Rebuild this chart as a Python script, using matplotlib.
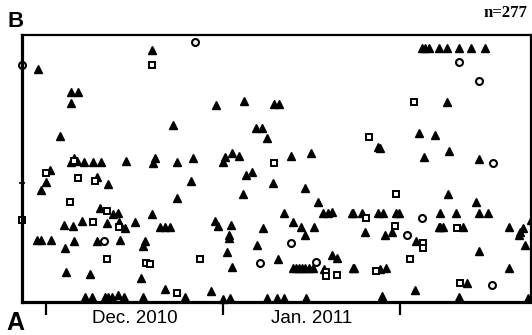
import matplotlib
matplotlib.use("Agg")
import matplotlib.pyplot as plt

# x: days since 1 Dec 2010, y: measured level (arbitrary units)
tri_day = [-1.4, 18.6, 4.4, 5.6, 4.4, 29.8, 34.7, 39.9, 40.8,
           65.8, 66.4, 67.1, 68.8, 70.1, 72.2, 74.3, 76.9, 70.1,
           2.5, 22.2, 4.4, 4.9, 5.4, 6.7, 8.2, 9.6, 14.0, 19.1, 18.7, 22.9,
           0.7, 0.0, -0.9, 8.9, 10.9, 22.9, 9.5, 11.7, 12.6, 18.6,
           3.2, 4.7, 6.3, 10.7, 12.8, 13.8, 15.6, 20.0, 20.8, 21.7,
           -1.6, -0.9, 0.9, 3.3, 4.9, 8.9, 13.0, 17.3, 17.0,
           3.5, 7.7, 16.6, 20.8,
           6.8, 8.1, 10.3, 10.9, 11.6, 12.6, 13.7, 17.0,
           36.8, 37.8, 38.7, 25.7, 31.3, 32.6, 33.8, 31.0, 42.9, 46.4,
           36.1, 35.0, 25.4, 39.8, 45.4, 34.5, 47.6,
           41.7, 48.5, 49.4, 50.1, 53.8,
           29.6, 30.1, 32.4, 38.0, 43.3, 44.7, 46.9,
           45.4, 32.0, 32.0, 37.0, 31.7, 32.6, 40.6,
           43.3, 43.8, 44.3, 44.8, 45.4, 46.1, 46.8,
           48.7, 50.1, 51.0, 53.8,
           24.3, 28.9, 31.0, 32.2, 38.7, 40.5, 41.7, 45.5,
           65.3, 68.1, 58.1, 58.5, 66.2, 70.6, 75.8, 70.4, 75.3,
           53.6, 55.3, 58.1, 59.0, 61.3, 61.8, 69.0, 71.8, 75.7, 77.4,
           68.8, 69.0, 69.4, 72.9, 81.1, 83.4, 84.8,
           55.9, 60.6, 59.4, 64.8, 75.7, 83.0, 82.8, 83.9,
           53.9, 58.5, 59.5, 81.1, 73.6, 64.6, 58.8, 72.3, 84.4]
tri_val = [233, 252, 210, 210, 199, 197, 201, 198, 198,
           254, 254, 254, 254, 254, 254, 254, 254, 200,
           166, 177, 140, 144, 141, 140, 140, 140, 141, 144, 139, 140,
           132, 120, 112, 125, 118, 104, 94, 88, 89, 88,
           77, 76, 81, 79, 80, 74, 80, 75, 75, 75,
           62, 62, 62, 54, 61, 61, 62, 61, 56,
           30, 28, 24, 13,
           5, 5, 5, 5, 5, 7, 5, 5,
           174, 174, 164, 144, 145, 149, 146, 140, 146, 149,
           130, 127, 121, 119, 114, 108, 100,
           89, 89, 89, 90, 89,
           81, 76, 77, 74, 80, 75, 75,
           67, 67, 64, 57, 50, 35, 43,
           34, 34, 34, 34, 34, 34, 34,
           33, 47, 44, 34,
           5, 11, 3, 4, 4, 4, 4, 4,
           169, 167, 155, 154, 145, 151, 143, 108, 100,
           89, 89, 89, 89, 89, 89, 89, 89, 89, 89,
           75, 75, 75, 75, 75, 74, 82,
           70, 70, 67, 61, 51, 70, 67, 57,
           34, 33, 34, 34, 19, 12, 6, 5, 4]

sq_day = [18.6, 64.4, 4.9, 0.0, 5.6, 8.6, 4.2, 10.7, -4.2, 8.2, 12.8,
          10.7, 17.5, 18.2, 22.9, 39.9, 27.0, 49.0, 49.0, 51.0,
          56.6, 61.3, 56.0, 61.1, 72.0, 66.0, 66.0, 63.7, 57.8, 72.5]
sq_val = [237, 200, 141, 129, 124, 121, 100, 91, 82, 80, 75,
          43, 39, 38, 9, 139, 43, 30, 26, 27,
          165, 108, 84, 76, 74, 59, 54, 43, 31, 19]

circ_day = [-4.2, 26.1, 72.3, 75.8, 10.2, 42.9, 37.5, 47.3, 78.3, 65.8, 63.2, 78.1]
circ_val = [237, 260, 240, 221, 61, 59, 39, 40, 139, 84, 67, 17]

month_ticks = [0, 31, 62]
month_label_pos = [15.5, 46.5]
month_labels = ["Dec. 2010", "Jan. 2011"]

fig = plt.figure(figsize=(5.32, 3.35), dpi=100)
ax = fig.add_axes([0.0414, 0.0985, 0.957, 0.797])

ax.plot(tri_day, tri_val, linestyle="none", marker="^", markersize=5.4,
        color="black", clip_on=False)
ax.plot(sq_day, sq_val, linestyle="none", marker="s", markersize=4.3,
        markerfacecolor="white", markeredgecolor="black", markeredgewidth=1.4,
        clip_on=False)
ax.plot(circ_day, circ_val, linestyle="none", marker="o", markersize=5.0,
        markerfacecolor="white", markeredgecolor="black", markeredgewidth=1.5,
        clip_on=False)

ax.set_xlim(-4.2, 84.9)
ax.set_ylim(0, 267)

for side in ["left", "bottom"]:
    ax.spines[side].set_linewidth(2.3)
for side in ["top", "right"]:
    ax.spines[side].set_linewidth(1.6)

ax.set_xticks(month_ticks)
ax.set_xticklabels([])
ax.tick_params(axis="x", which="major", direction="out", length=9, width=1.6)
ax.set_xticks(month_label_pos, minor=True)
ax.set_xticklabels(month_labels, minor=True, fontsize=13.5,
                   family="Liberation Sans")
ax.tick_params(axis="x", which="minor", length=0, pad=6)

ax.set_yticks([119])
ax.set_yticklabels([])
ax.tick_params(axis="y", direction="inout", length=5, width=1.2)

fig.text(0.015, 0.919, "B", fontsize=16, fontweight="bold",
         family="Liberation Sans", va="baseline", ha="left")
fig.text(0.012, 0.015, "A", fontsize=18, fontweight="bold",
         family="Liberation Sans", va="baseline", ha="left")
fig.text(0.991, 0.949, "n=277", fontsize=12, fontweight="bold",
         family="Liberation Serif", va="baseline", ha="right")

fig.savefig("out.png", dpi=100)
